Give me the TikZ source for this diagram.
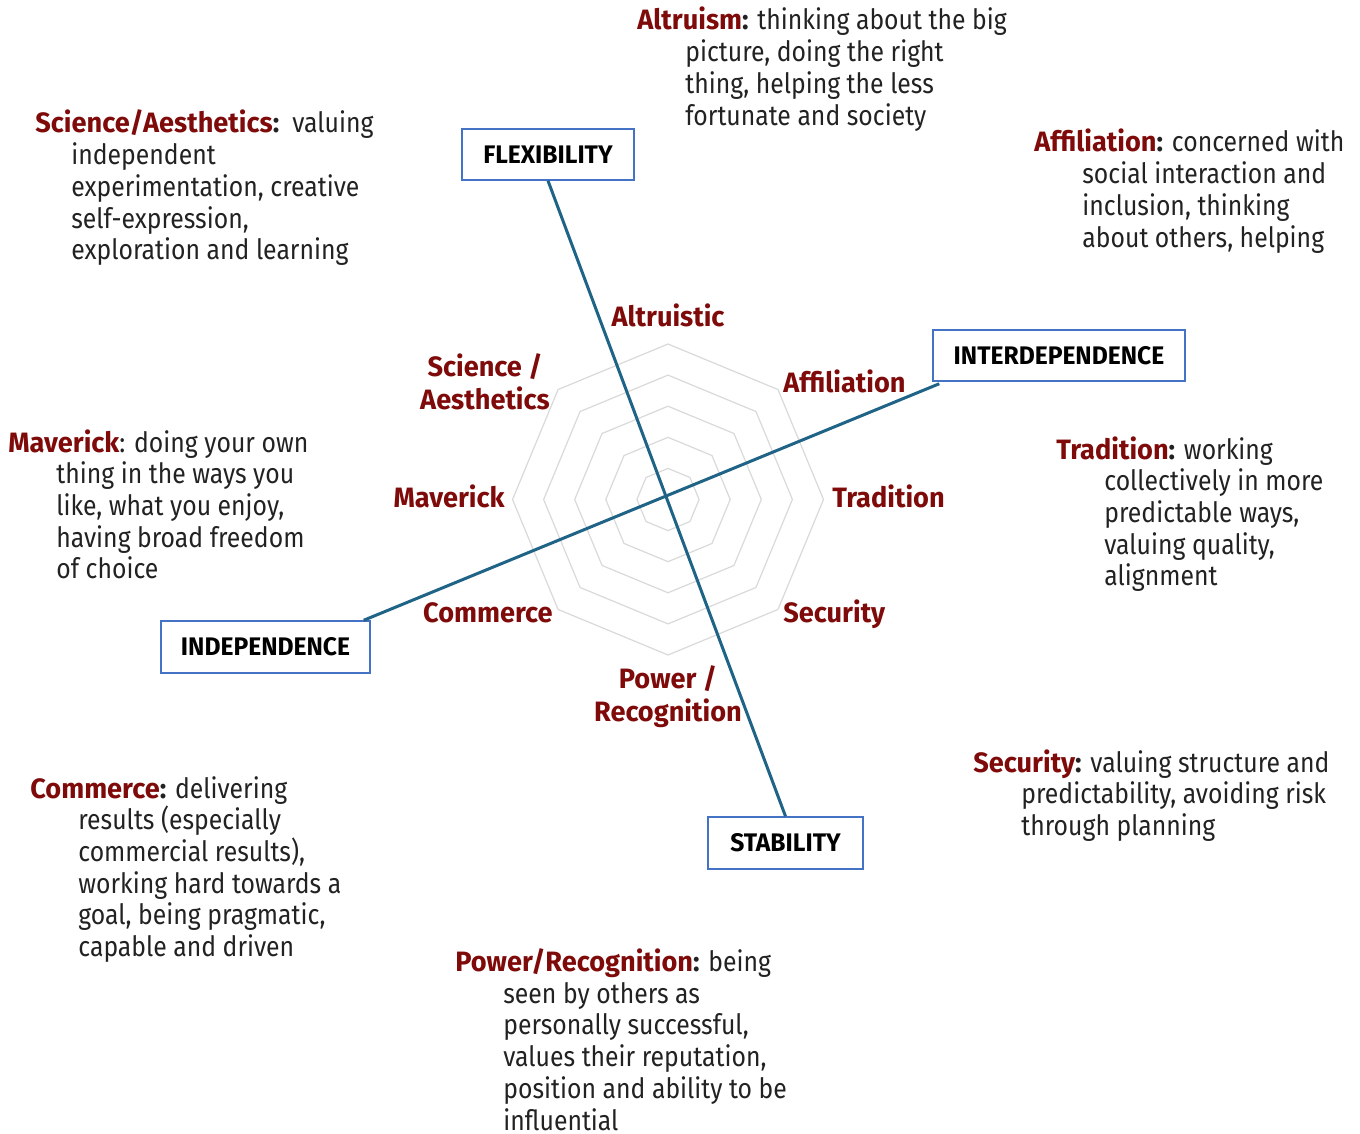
\documentclass[tikz,border=0pt]{standalone}
\usepackage{fontspec}
\setmainfont{Fira Sans}[FakeStretch=0.885]
\newfontfamily\bff{Fira Sans}[FakeStretch=0.97]
\usetikzlibrary{calc}
\definecolor{hred}{HTML}{7F0A0A}
\definecolor{txt}{HTML}{222222}
\definecolor{axisc}{HTML}{1F6487}
\definecolor{boxc}{HTML}{4472C4}
\definecolor{ringc}{HTML}{D9D9D9}
\newcommand\hd[1]{{\bff\bfseries\color{hred}#1}}
\newcommand\cln{{\bff\bfseries :}}
\newcommand\ind{\hspace*{24pt}}
\tikzset{
  desc/.style={font=\fontsize{14}{15.85}\selectfont, text=txt, align=left, inner sep=0pt, anchor=base west},
  lbl/.style={font=\fontsize{14}{16.5}\selectfont\bff\bfseries, text=hred, inner sep=0pt},
  axbox/.style={draw=boxc, line width=0.75pt, fill=white, font=\fontsize{12.7}{15}\selectfont\bff\bfseries, text=black, inner sep=0pt},
  axline/.style={draw=axisc, line width=1.5pt},
  ring/.style={draw=ringc, line width=0.6pt}
}
\begin{document}
\begin{tikzpicture}[x=0.5pt,y=-0.5pt]
\useasboundingbox (0,0) rectangle (1360,1134);
% rings
\foreach \r in {31.1,62.2,93.3,124.4,155.5}{
  \draw[ring] (668,499.5) ++(0:\r) -- ++(112.5:{2*\r*sin(22.5)}) -- ++(157.5:{2*\r*sin(22.5)}) -- ++(202.5:{2*\r*sin(22.5)}) -- ++(247.5:{2*\r*sin(22.5)}) -- ++(292.5:{2*\r*sin(22.5)}) -- ++(337.5:{2*\r*sin(22.5)}) -- ++(22.5:{2*\r*sin(22.5)}) -- cycle;
}
% boxes
\node[axbox, minimum width=86pt, minimum height=25.5pt] (flex) at (548,154.5) {FLEXIBILITY};
\node[axbox, minimum width=126pt, minimum height=25.5pt] (inter) at (1059,355.5) {INTERDEPENDENCE};
\node[axbox, minimum width=104.5pt, minimum height=26pt] (indep) at (265.5,647) {INDEPENDENCE};
\node[axbox, minimum width=77.5pt, minimum height=26pt] (stab) at (785.5,843) {STABILITY};
% axes
\draw[axline] (flex.south) -- (stab.north);
\draw[axline] ($(inter.south west)+(7,2)$) -- ($(indep.north east)+(-7,0)$);
% axis labels
\node[lbl, anchor=base] (lalt) at (668,327) {Altruistic};
\node[lbl, anchor=base west] (laff) at (783,392) {Affiliation};
\node[lbl, anchor=base west] (ltra) at (832,507) {Tradition};
\node[lbl, anchor=base west] (lsec) at (783,622) {Security};
\node[lbl, anchor=base, align=center] (lpow) at (668,721) {Power /\\Recognition};
\node[lbl, anchor=base east] (lcom) at (553,622) {Commerce};
\node[lbl, anchor=base east] (lmav) at (505,507) {Maverick};
\node[lbl, anchor=base, align=center] (lsci) at (485,409) {Science /\\Aesthetics};
% descriptions (anchored at the baseline of the last line)
\node[desc] (dalt) at (637,125.1) {\hd{Altruism}\cln{} thinking about the big\\\ind picture, doing the right\\\ind thing, helping the less\\\ind fortunate and society};
\node[desc] (dsci) at (35,259.8) {\hd{Science/Aesthetics}\cln\ \ valuing\\\hspace*{18pt}independent\\\hspace*{18pt}experimentation, creative\\\hspace*{18pt}self-expression,\\\hspace*{18pt}exploration and learning};
\node[desc] (daff) at (1034,247.1) {\hd{Affiliation}\cln{} concerned with\\\ind social interaction and\\\ind inclusion, thinking\\\ind about others, helping};
\node[desc] (dmav) at (8,578.8) {\hd{Maverick}: doing your own\\\ind thing in the ways you\\\ind like, what you enjoy,\\\ind having broad freedom\\\ind of choice};
\node[desc] (dtra) at (1056,585.8) {\hd{Tradition}\cln{} working\\\ind collectively in more\\\ind predictable ways,\\\ind valuing quality,\\\ind alignment};
\node[desc] (dsec) at (973,835.4) {\hd{Security}\cln{} valuing structure and\\\ind predictability, avoiding risk\\\ind through planning};
\node[desc] (dcom) at (30,956.5) {\hd{Commerce}\cln{} delivering\\\ind results (especially\\\ind commercial results),\\\ind working hard towards a\\\ind goal, being pragmatic,\\\ind capable and driven};
\node[desc] (dpow) at (455,1130) {\hd{Power/Recognition}\cln{} being\\\ind seen by others as\\\ind personally successful,\\\ind values their reputation,\\\ind position and ability to be\\\ind influential};
\end{tikzpicture}
\end{document}
